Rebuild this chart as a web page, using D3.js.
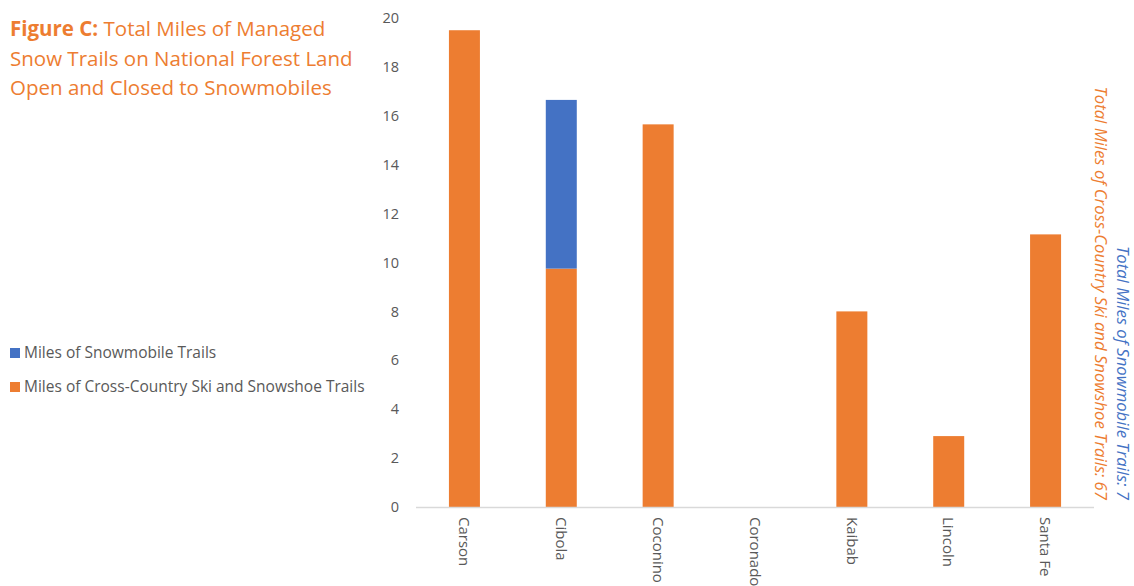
<!DOCTYPE html>
<html>
<head>
<meta charset="utf-8">
<script src="https://cdn.jsdelivr.net/npm/d3@7"></script>
<style>
  body { margin: 0; background: #fff; }
  svg { display: block; font-family: "Open Sans", sans-serif; }
</style>
</head>
<body>
<svg id="chart" width="1134" height="586"></svg>
<script>
// chart values
var forests = ["Carson", "Cibola", "Coconino", "Coronado", "Kaibab", "Lincoln", "Santa Fe"];
var ski_miles = [19.5, 9.75, 15.65, 0, 8, 2.9, 11.15];
var snowmobile_miles = [0, 6.9, 0, 0, 0, 0, 0];
var y_ticks = [0, 2, 4, 6, 8, 10, 12, 14, 16, 18, 20];
var series_names = ["Miles of Snowmobile Trails", "Miles of Cross-Country Ski and Snowshoe Trails"];

var orange = "#ED7D31", blue = "#4472C4", grey = "#595959";

var svg = d3.select("#chart");

var x = d3.scaleBand().domain(forests).range([416, 1094]).paddingInner(0.68).paddingOuter(0.34);
var y = d3.scaleLinear().domain([0, 20]).range([507, 18]);

// stack the two series per forest
var rows = forests.map(function(f, i) {
    return {forest: f, ski: ski_miles[i], snowmobile: snowmobile_miles[i]};
});
var stacked = d3.stack().keys(["ski", "snowmobile"])(rows);
var colors = {ski: orange, snowmobile: blue};

svg.append("g").selectAll("g")
    .data(stacked)
    .enter()
    .append("g")
        .attr("fill", function(d) { return colors[d.key]; })
    .selectAll("rect")
    .data(function(d) { return d.filter(function(p) { return p[1] > p[0]; }); })
    .enter()
    .append("rect")
        .attr("x", function(d) { return x(d.data.forest); })
        .attr("width", x.bandwidth())
        .attr("y", function(d) { return y(d[1]); })
        .attr("height", function(d) { return y(d[0]) - y(d[1]); });

// y axis, no line, just labels
var yAxis = svg.append("g")
    .attr("transform", "translate(399,0)")
    .call(d3.axisLeft(y).tickValues(y_ticks).tickSize(0).tickPadding(0));
yAxis.select(".domain").remove();
yAxis.selectAll("text")
    .attr("fill", grey)
    .style("font-size", "14.5px")
    .style("font-family", "'Open Sans', sans-serif");

// x axis baseline
svg.append("line")
    .attr("x1", 416).attr("x2", 1094)
    .attr("y1", y(0) + 0.5).attr("y2", y(0) + 0.5)
    .attr("stroke", "#D9D9D9")
    .attr("stroke-width", 1.5);

// category labels, rotated
svg.append("g").selectAll("text")
    .data(forests)
    .enter()
    .append("text")
        .attr("transform", function(d) {
            return "translate(" + (x(d) + x.bandwidth() / 2) + ",517) rotate(90)";
        })
        .attr("dy", "0.35em")
        .attr("fill", grey)
        .style("font-size", "15px")
        .text(function(d) { return d; });

// title
var title = svg.append("text")
    .attr("x", 10)
    .attr("fill", orange)
    .style("font-size", "20.5px");
title.append("tspan").attr("x", 10).attr("y", 36).style("font-weight", "bold").text("Figure C: ");
title.append("tspan").text("Total Miles of Managed");
title.append("tspan").attr("x", 10).attr("y", 66).text("Snow Trails on National Forest Land");
title.append("tspan").attr("x", 10).attr("y", 95).text("Open and Closed to Snowmobiles");

// legend
var legend = svg.append("g").selectAll("g")
    .data(series_names)
    .enter()
    .append("g")
        .attr("transform", function(d, i) { return "translate(10," + (348 + i * 34) + ")"; });
legend.append("rect")
    .attr("width", 10).attr("height", 10)
    .attr("fill", function(d, i) { return i == 0 ? blue : orange; });
legend.append("text")
    .attr("x", 14).attr("y", 5)
    .attr("dy", "0.35em")
    .attr("fill", grey)
    .style("font-size", "15.5px")
    .text(function(d) { return d; });

// totals down the right side
var total_ski = d3.sum(ski_miles);
var total_snowmobile = d3.sum(snowmobile_miles);
svg.append("text")
    .attr("transform", "translate(1095,500) rotate(90)")
    .attr("text-anchor", "end")
    .attr("fill", orange)
    .style("font-size", "16.7px")
    .style("font-style", "italic")
    .text("Total Miles of Cross-Country Ski and Snowshoe Trails: " + Math.round(total_ski));
svg.append("text")
    .attr("transform", "translate(1117,500) rotate(90)")
    .attr("text-anchor", "end")
    .attr("fill", blue)
    .style("font-size", "16.7px")
    .style("font-style", "italic")
    .text("Total Miles of Snowmobile Trails: " + Math.round(total_snowmobile));
</script>
</body>
</html>
